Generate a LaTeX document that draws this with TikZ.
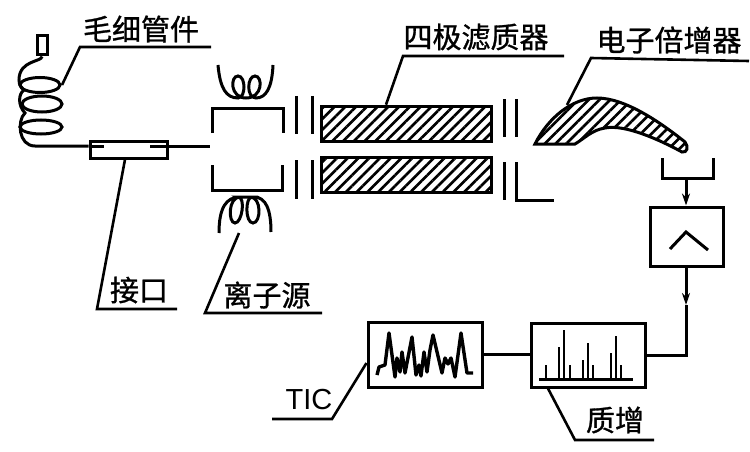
\documentclass[tikz,border=0pt]{standalone}
\usepackage{fontspec}
\setmainfont{Liberation Sans}
\newfontfamily\cjkfont[FakeBold=1]{Noto Sans CJK SC}
\usepackage{tikz}
\usetikzlibrary{arrows.meta,positioning,patterns.meta}

\begin{document}
\begin{tikzpicture}[
    x=1pt, y=-1pt,
    line width=3pt,
    >={Stealth[length=12pt,width=8pt]},
    partlabel/.style={font=\cjkfont\fontsize{29}{29}\selectfont, inner sep=0pt},
    unit/.style={rectangle, draw, inner sep=0pt, fill=white},
    rod/.style={rectangle, draw, inner sep=0pt, minimum width=170pt, minimum height=35pt,
        pattern={Lines[angle=45,distance=7.6pt,line width=2.6pt]}},
    hatching/.style={pattern={Lines[angle=45,distance=7.6pt,line width=2.6pt]}},
    leader/.style={line width=2.6pt}
]
    \useasboundingbox (0,0) rectangle (750,452);

    \node[partlabel] (caplabel) at (141,29) {毛细管件};
    \node[partlabel] (quadlabel) at (476,37) {四极滤质器};
    \node[partlabel] (emlabel) at (669,40) {电子倍增器};
    \node[partlabel] (portlabel) at (139,290) {接口};
    \node[partlabel] (ionlabel) at (267,295) {离子源};
    \node[partlabel] (masslabel) at (615,420) {质增};
    \node[font=\fontsize{29}{29}\selectfont, inner sep=0pt] (ticlabel) at (309,400) {TIC};

    \node[unit, minimum width=10pt, minimum height=19pt] (vial) at (42,45.5) {};
    \node[unit, minimum width=77pt, minimum height=17pt] (port) at (128.5,149.5) {};
    \node[rod] (rodtop) at (406,123.5) {};
    \node[rod] (rodbot) at (406,174.5) {};
    \node[unit, minimum width=73pt, minimum height=59pt] (amp) at (686.5,236.5) {};
    \node[unit, minimum width=114pt, minimum height=64pt] (mass) at (588,355) {};
    \node[unit, minimum width=114pt, minimum height=65pt] (tic) at (425,354.5) {};

    \coordinate (capbend) at (80,47);
    \coordinate (capend) at (211,47);
    \coordinate (captip) at (62,85);
    \coordinate (quadbend) at (403,56);
    \coordinate (quadend) at (564,56);
    \coordinate (embend) at (591,58);
    \coordinate (emend) at (749,61);
    \coordinate (emtip) at (567,105);
    \coordinate (portbend) at (97,309);
    \coordinate (portend) at (177,309);
    \coordinate (iontip) at (239,233);
    \coordinate (ionbend) at (205,313);
    \coordinate (ionend) at (322,313);
    \coordinate (ticbend) at (332,419);
    \coordinate (ticend) at (272,419);
    \coordinate (massbend) at (575,440);
    \coordinate (massend) at (654,440);
    \coordinate (gapend) at (210,146);
    \coordinate (collector) at (686,178);
    \coordinate (ampout) at (686,305);
    \coordinate (corner) at (686,355);

    % capillary coil
    \draw (vial.south) .. controls (42,62) and (19,60) .. (19,80)
        .. controls (19,86) and (22,88) .. (24,90)
        .. controls (18,94) and (18,106) .. (25,113)
        .. controls (17,120) and (18,146) .. (35,146) -- (port.west |- 0,146);
    \draw (40,85) ellipse [x radius=20, y radius=7.5];
    \draw (42,104) ellipse [x radius=20, y radius=8];
    \draw (41,127) ellipse [x radius=21, y radius=7];
    \draw (port.west |- 0,146) -- ++(15,0);
    \draw (port.east |- 0,146) -- ++(-19,0);
    \draw (port.east |- 0,146) -- (gapend);

    % ion source
    \draw (212,133) |- (283,108) -- (283,133);
    \draw (212,165) |- (282,190) -- (282,165);
    \draw (218,65) .. controls (220,88) and (226,98) .. (238,98)
        .. controls (246,98) and (246,76) .. (238,76)
        .. controls (230,76) and (230,98) .. (246,98)
        .. controls (263,98) and (263,76) .. (255,76)
        .. controls (247,76) and (246,98) .. (256,98)
        .. controls (266,98) and (272,88) .. (273,65);
    \draw (219,233) .. controls (219,208) and (226,197) .. (240,197)
        .. controls (228,197) and (228,223) .. (235,223)
        .. controls (242,223) and (246,197) .. (238,197)
        -- (252,197) .. controls (245,197) and (245,223) .. (253,223)
        .. controls (261,223) and (262,197) .. (250,197)
        -- (254,197) .. controls (266,197) and (271,210) .. (271,232);

    % slits
    \foreach \sx in {296,312} {
        \draw (\sx,96) -- (\sx,134);
        \draw (\sx,160) -- (\sx,199);
    }
    \draw (504,99) -- (504,137);
    \draw (516,99) -- (516,137);
    \draw (504,162) -- (504,200);
    \draw (516,162) |- (554,200);

    % multiplier
    \draw[hatching] (535,144) .. controls (548,118) and (572,98) .. (597,98)
        .. controls (625,98) and (660,122) .. (685,142)
        .. controls (689,147) and (687,153) .. (682,152)
        .. controls (660,140) and (625,124) .. (605,128)
        .. controls (592,130) and (585,138) .. (575,144) -- cycle;
    \draw (662,158) |- (713,178) -- (713,158);
    \draw[->] (collector) -- (amp.north -| collector);
    \draw (670,249) -- (686,232) -- (708,250);

    % signal path
    \draw[->] (amp.south -| ampout) -- (ampout);
    \draw (ampout) -- (corner) -- (mass.east |- corner);
    \draw (mass.west |- tic.east) -- (tic.east);

    % spectrum
    \draw (539,379) -- (633,379);
    \foreach \px/\py in {546/365,559/347,564/330,570/365,583/360,588/343,593/365,611/353,616/336,621/365} {
        \draw[line width=2.6pt] (\px,379) -- (\px,\py);
    }
    \draw[line width=3.4pt, line join=round] (377,375) -- (379,367) -- (385,365) -- (389,333) -- (395,377)
        -- (397,358) -- (400,372) -- (402,352) -- (405,373) -- (412,337) -- (416,375) -- (419,365) -- (421,376) -- (424,352)
        -- (427,372) -- (430,350) -- (433,335) -- (442,373) -- (445,358) -- (448,364) -- (451,358) -- (455,377)
        -- (461,333) -- (467,373) -- (473,373);

    % leaders
    \draw[leader] (captip) -- (capbend) -- (capend);
    \draw[leader] (rodtop.north -| 386,0) -- (quadbend) -- (quadend);
    \draw[leader] (emtip) -- (embend) -- (emend);
    \draw[leader] (port.south -| 125,0) -- (portbend) -- (portend);
    \draw[leader] (iontip) -- (ionbend) -- (ionend);
    \draw[leader] (tic.west |- 0,363) -- (ticbend) -- (ticend);
    \draw[leader] (mass.south -| 548,0) -- (massbend) -- (massend);
\end{tikzpicture}
\end{document}
